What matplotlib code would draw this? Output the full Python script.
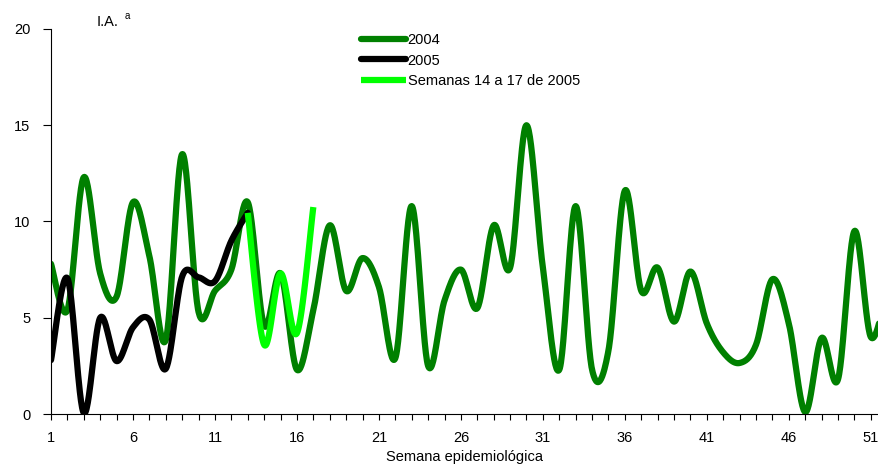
import numpy as np
import matplotlib
matplotlib.use('Agg')
import matplotlib.pyplot as plt

plt.rcParams['font.family'] = ['Liberation Sans', 'DejaVu Sans']

# weekly values (I.A.)
weeks_2004 = list(range(1, 53))
ia_2004 = [7.8, 5.4, 12.3, 7.3, 6.1, 11.0, 8.2, 3.85, 13.5, 5.3,
           6.4, 7.5, 11.0, 4.6, 7.3, 2.3, 5.4, 9.8, 6.4, 8.1,
           6.6, 2.9, 10.8, 2.5, 5.9, 7.5, 5.5, 9.8, 7.6, 15.0,
           7.6, 2.3, 10.8, 2.3, 3.3, 11.6, 6.4, 7.6, 4.8, 7.4,
           4.7, 3.2, 2.65, 3.6, 7.0, 4.7, 0.1, 3.95, 1.8, 9.5,
           4.0, 6.5]

weeks_2005 = list(range(1, 14))
ia_2005 = [2.8, 7.05, 0.05, 5.0, 2.75, 4.5, 4.9, 2.35, 7.15, 7.1, 6.9, 9.0, 10.45]

weeks_14_17 = [13, 14, 15, 16, 17]
ia_14_17 = [10.45, 3.6, 7.3, 4.2, 10.75]

xtick_labels = ['1', '6', '11', '16', '21', '26', '31', '36', '41', '46', '51']


def smooth(x, y, n=30):
    '''excel-like smoothed line (catmull-rom bezier through the points)'''
    x = np.asarray(x, float)
    y = np.asarray(y, float)
    P = np.column_stack([x, y])
    P = np.vstack([P[0], P, P[-1]])
    out = []
    t = np.linspace(0, 1, n)[:, None]
    for i in range(1, len(P) - 2):
        p0, p3 = P[i], P[i + 1]
        c1 = p0 + (P[i + 1] - P[i - 1]) / 6
        c2 = p3 - (P[i + 2] - P[i]) / 6
        seg = (1 - t)**3 * p0 + 3 * (1 - t)**2 * t * c1 + 3 * (1 - t) * t**2 * c2 + t**3 * p3
        out.append(seg if i == 1 else seg[1:])
    out = np.vstack(out)
    return out[:, 0], out[:, 1]


fig = plt.figure(figsize=[8.79, 4.66], dpi=100)
ax = fig.add_axes([51/879, 52/466, 828/879, 385/466])

lw = 4.5
ax.plot(*smooth(weeks_2004, ia_2004), color='#008000', lw=lw, label='2004',
        solid_capstyle='round')
ax.plot(*smooth(weeks_2005, ia_2005), color='k', lw=lw, label='2005',
        solid_capstyle='round')
ax.plot(*smooth(weeks_14_17, ia_14_17), color='#00ff00', lw=lw,
        label='Semanas 14 a 17 de 2005', solid_capstyle='butt')

ax.set_xlim(1, 51.5)
ax.set_ylim(0, 20)
for s in ['top', 'right']:
    ax.spines[s].set_visible(False)
for s in ['left', 'bottom']:
    ax.spines[s].set_linewidth(0.8)

ax.set_yticks([0, 5, 10, 15, 20])
ax.set_yticklabels(['0', '5', '10', '15', '20'])
ax.set_xticks(weeks_2004[:51])
ax.set_xticklabels([str(w) if str(w) in xtick_labels else '' for w in weeks_2004[:51]])
ax.tick_params(axis='y', direction='out', length=6, width=0.8, pad=9, labelsize=10.5)
ax.tick_params(axis='x', direction='out', length=4, width=0.8, pad=8, labelsize=10.5)

ax.set_xlabel('Semana epidemiológica', fontsize=10.5, labelpad=4)

fig.text(97/879, 1 - 22/466, 'I.A.', fontsize=10.5, va='center', ha='left')
fig.text(125/879, 1 - 16/466, 'a', fontsize=7, va='center', ha='left')

ax.legend(loc='upper left', bbox_to_anchor=(361/879, 1 - 33/466),
          bbox_transform=fig.transFigure, frameon=False, fontsize=10.5,
          handlelength=3.1, handletextpad=0.1, labelspacing=0.45,
          borderpad=0, borderaxespad=0)

fig.savefig('out.png', dpi=100)
